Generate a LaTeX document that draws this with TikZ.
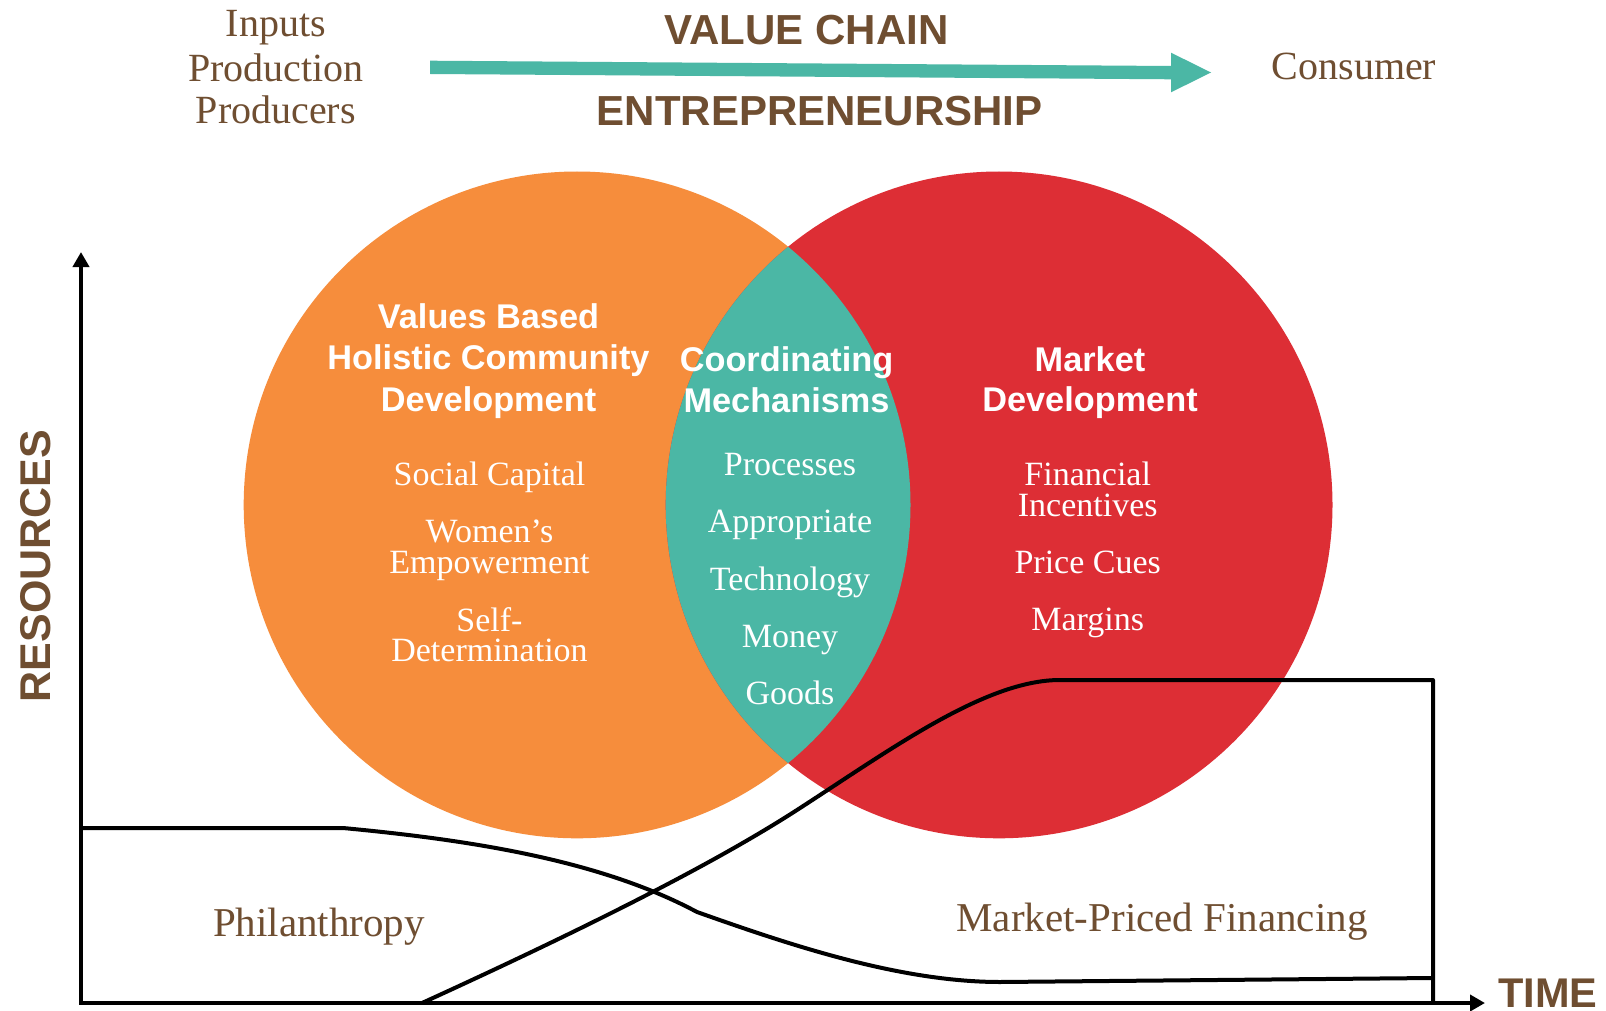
\documentclass[tikz,border=0pt]{standalone}
\usepackage{fontspec}
\setmainfont{Liberation Serif}
\setsansfont{Liberation Sans}
\usetikzlibrary{arrows.meta}
\definecolor{corange}{RGB}{246,141,60}
\definecolor{cred}{RGB}{221,46,53}
\definecolor{cteal}{RGB}{75,183,165}
\definecolor{cbrown}{RGB}{111,78,49}
\tikzset{
  lbl/.style={anchor=base, inner sep=0pt, outer sep=0pt},
  toptext/.style={lbl, text=cbrown, font=\fontsize{40}{44}\selectfont},
  headtext/.style={lbl, text=cbrown, font=\sffamily\bfseries\fontsize{42}{48}\selectfont},
  axislabel/.style={lbl, text=cbrown, font=\sffamily\bfseries\fontsize{41.5}{48}\selectfont},
  bottext/.style={lbl, text=cbrown, font=\fontsize{41}{44}\selectfont},
  ctitle/.style={lbl, text=white, font=\sffamily\bfseries\fontsize{34.3}{41}\selectfont},
  citem/.style={lbl, text=white, font=\fontsize{34}{31}\selectfont},
  axisline/.style={line width=4.2pt, {Triangle[length=15pt,width=16pt]}-{Triangle[length=15pt,width=16pt]}},
  curveline/.style={line width=4pt, line join=round},
}
\begin{document}
\begin{tikzpicture}[x=1pt,y=-1pt]
\fill[white] (0,0) rectangle (1606,1011);
\useasboundingbox (0,0) rectangle (1606,1011);

% circles
\coordinate (lc) at (577.1,504.9);
\coordinate (rc) at (999.1,504.9);
\fill[corange] (lc) circle[radius=333.4pt];
\fill[cred] (rc) circle[radius=333.4pt];
\begin{scope}
  \clip (lc) circle[radius=333.4pt];
  \fill[cteal] (rc) circle[radius=333.4pt];
\end{scope}

% top value chain arrow
\fill[cteal] (430,60.7) -- (1171,66) -- (1171,52.7) -- (1211,72.5) -- (1171,92.3) -- (1171,79.3) -- (430,74) -- cycle;

% top labels
\node[toptext] (in1) at (275.8,36.7) {Inputs};
\node[toptext] (in2) at (275.8,81.7) {Production};
\node[toptext] (in3) at (275.8,124) {Producers};
\node[toptext] (cons) at (1354,80) {Consumer};
\node[headtext] (vc) at (806.5,44.3) {VALUE CHAIN};
\node[headtext] (ent) at (819.7,126) {ENTREPRENEURSHIP};

% left circle text
\node[ctitle] (lt1) at (488.5,328.3) {Values Based};
\node[ctitle] (lt2) at (488.5,369.3) {Holistic Community};
\node[ctitle] (lt3) at (488.5,411.7) {Development};
\node[citem] (li1) at (489.5,485) {Social Capital};
\node[citem] (li2) at (489.5,542.3) {Women’s};
\node[citem] (li3) at (489.5,573.3) {Empowerment};
\node[citem] (li4) at (489.5,631) {Self-};
\node[citem] (li5) at (489.5,661) {Determination};

% centre text
\node[ctitle] (ct1) at (786.5,371.5) {Coordinating};
\node[ctitle] (ct2) at (786.5,412) {Mechanisms};
\node[citem] (ci1) at (790,475) {Processes};
\node[citem] (ci2) at (790,532) {Appropriate};
\node[citem] (ci3) at (790,590) {Technology};
\node[citem] (ci4) at (790,647) {Money};
\node[citem] (ci5) at (790,704) {Goods};

% right circle text
\node[ctitle] (rt1) at (1090,371.7) {Market};
\node[ctitle] (rt2) at (1090,411.7) {Development};
\node[citem] (ri1) at (1087.7,485.7) {Financial};
\node[citem] (ri2) at (1087.7,516.7) {Incentives};
\node[citem] (ri3) at (1087.7,573.3) {Price Cues};
\node[citem] (ri4) at (1087.7,630) {Margins};

% axes
\coordinate (origin) at (81,1003);
\coordinate (ytip) at (81,252);
\coordinate (xtip) at (1485,1003);
\draw[axisline, line join=miter] (ytip) -- (origin) -- (xtip);

% philanthropy curve
\coordinate (p0) at (81,828);
\coordinate (p1) at (343,828);
\coordinate (pk) at (697,912);
\coordinate (p2) at (1433,978);
\draw[curveline] (p0) -- (p1)
  .. controls (470,840) and (600,860) .. (pk)
  .. controls (790,945) and (900,982) .. (1000,982)
  -- (p2);

% market curve
\coordinate (m0) at (422,1003);
\coordinate (mm) at (797,810);
\coordinate (mt) at (1060,680);
\coordinate (mr) at (1433,680);
\coordinate (m1) at (1433,1003);
\draw[curveline] (m0) .. controls (560,940) and (704,870) .. (mm)
  .. controls (890,750) and (985,680) .. (mt) -- (mr) -- (m1);

% axis and region labels
\node[axislabel] (time) at (1547.7,1007) {TIME};
\node[axislabel, rotate=90, font=\sffamily\bfseries\fontsize{43}{48}\selectfont] (res) at (50,566) {RESOURCES};
\node[bottext] (phil) at (319,936) {Philanthropy};
\node[bottext] (mpf) at (1162,931.7) {Market-Priced Financing};
\end{tikzpicture}
\end{document}
